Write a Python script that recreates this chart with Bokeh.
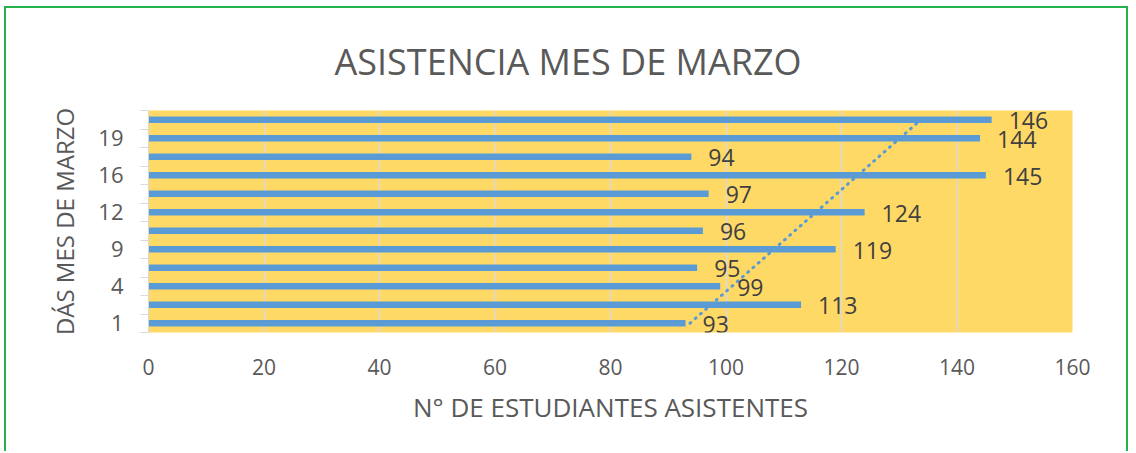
import numpy as np
from bokeh.plotting import figure
from bokeh.models import ColumnDataSource, FixedTicker, LabelSet, Range1d
from bokeh.core.properties import value
from bokeh.embed import file_html
from bokeh.resources import INLINE

# Data (bottom to top)
days = ["1", "2", "4", "5", "9", "10", "12", "15", "16", "18", "19", "22"]
asistentes = [93, 113, 99, 95, 119, 96, 124, 97, 145, 94, 144, 146]
x_ticks = [0, 20, 40, 60, 80, 100, 120, 140, 160]

TITLE = "ASISTENCIA MES DE MARZO"
X_LABEL = "N° DE ESTUDIANTES ASISTENTES"
Y_LABEL = "DÁS MES DE MARZO"

FONT = "Open Sans"
TXT = "#595959"
BLUE = "#5B9BD5"
GOLD = "#FFD966"
GRID = "#D9D9D9"

pos = list(range(1, len(days) + 1))
src = ColumnDataSource(dict(pos=pos, val=asistentes,
                            lab=[str(v) for v in asistentes]))

p = figure(width=1124, height=445, output_backend="svg", toolbar_location=None,
           x_range=Range1d(0, 160), y_range=Range1d(0.5, len(days) + 0.5),
           min_border_left=142, min_border_right=58, min_border_top=102,
           min_border_bottom=121)
p.styles = {"margin-left": "4px", "margin-top": "6px",
            "border-left": "2px solid #22B14C", "border-top": "2px solid #22B14C",
            "border-right": "2px solid #22B14C"}

p.background_fill_color = GOLD
p.border_fill_color = "white"
p.outline_line_color = None

p.hbar(y="pos", right="val", height=0.35, left=0, source=src,
       fill_color=BLUE, line_color=None)

# linear trend line from data
coef = np.polyfit(pos, asistentes, 1)
trend = np.polyval(coef, pos)
p.line(x=trend, y=pos, line_color=BLUE, line_width=3, line_dash="1 6",
       line_cap="round")

labels = LabelSet(x="val", y="pos", text="lab", source=src, x_offset=17,
                  y_offset=-1, text_baseline="middle", text_font=value(FONT),
                  text_font_size="23px", text_color="#404040")
p.add_layout(labels)

# Title
p.title.text = TITLE
p.title.align = "left"
p.title.offset = 186
p.title.text_font = FONT
p.title.text_font_size = "36px"
p.title.text_font_style = "normal"
p.title.text_color = TXT
p.title.standoff = 50

# X axis
xa = p.xaxis[0]
xa.ticker = FixedTicker(ticks=x_ticks)
xa.axis_line_color = None
xa.major_tick_line_color = None
xa.minor_tick_line_color = None
xa.major_label_standoff = 20
xa.major_label_text_font = FONT
xa.major_label_text_font_size = "21px"
xa.major_label_text_color = TXT
xa.axis_label = X_LABEL
xa.axis_label_text_font = FONT
xa.axis_label_text_font_size = "26px"
xa.axis_label_text_font_style = "normal"
xa.axis_label_text_color = TXT
xa.axis_label_standoff = 11

# Y axis
ya = p.yaxis[0]
shown = pos[::2]
ya.ticker = FixedTicker(ticks=shown, minor_ticks=[i + 0.5 for i in range(0, len(days) + 1)])
ya.major_label_overrides = {i: days[i - 1] for i in shown}
ya.axis_line_color = GRID
ya.major_tick_line_color = None
ya.minor_tick_line_color = GRID
ya.minor_tick_in = 0
ya.minor_tick_out = 8
ya.major_label_standoff = 17
ya.major_label_text_font = FONT
ya.major_label_text_font_size = "22px"
ya.major_label_text_color = TXT
ya.axis_label = Y_LABEL
ya.axis_label_text_font = FONT
ya.axis_label_text_font_size = "24px"
ya.axis_label_text_font_style = "normal"
ya.axis_label_text_color = TXT
ya.axis_label_standoff = 14

p.xgrid.grid_line_color = GRID
p.xgrid.grid_line_width = 1.5
p.ygrid.grid_line_color = None

open("out.html", "w").write(file_html(p, INLINE))
